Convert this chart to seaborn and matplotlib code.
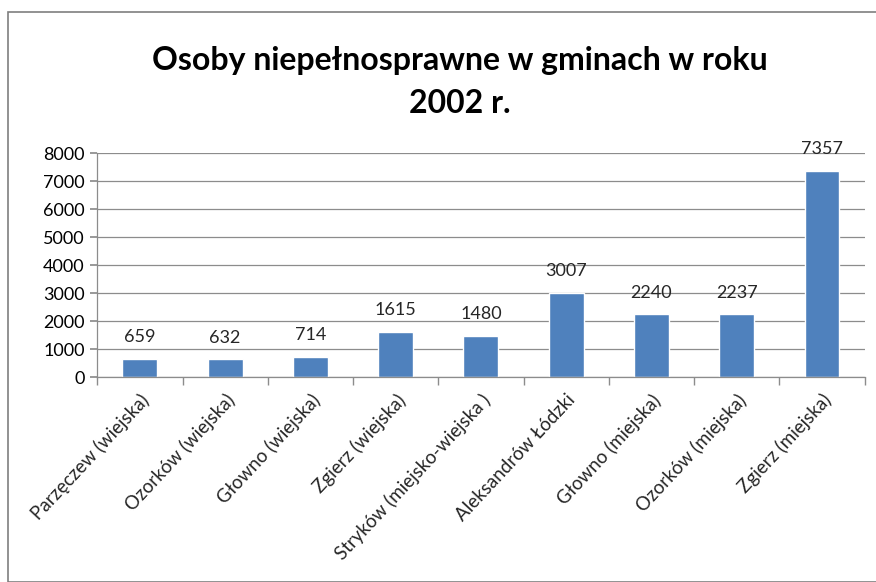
import numpy as np
import pandas as pd
import matplotlib
matplotlib.use('Agg')
import matplotlib.pyplot as plt
from matplotlib.patches import Rectangle
import seaborn as sns

categories = ['Parzęczew (wiejska)', 'Ozorków (wiejska)', 'Głowno (wiejska)',
              'Zgierz (wiejska)', 'Stryków (miejsko-wiejska )', 'Aleksandrów Łódzki',
              'Głowno (miejska)', 'Ozorków (miejska)', 'Zgierz (miejska)']
values = [659, 632, 714, 1615, 1480, 3007, 2240, 2237, 7357]
title = 'Osoby niepełnosprawne w gminach w roku\n2002 r.'

sns.set_theme(style='white')
plt.rcParams['font.family'] = ['Lato', 'DejaVu Sans']

df = pd.DataFrame({'gmina': categories, 'osoby': values})

fig = plt.figure(figsize=(8.76, 5.82), dpi=100)
ax = fig.add_axes([0.111, 0.352, 0.876, 0.385])
sns.barplot(data=df, x='gmina', y='osoby', color='#4f81bd', width=0.41,
            saturation=1, ax=ax)

ax.set_ylim(0, 8000)
ax.set_yticks(np.arange(0, 8001, 1000))
ax.yaxis.grid(True, color='#8c8c8c', linewidth=0.9)
ax.set_axisbelow(True)
ax.set_xlim(-0.5, len(categories) - 0.5)
ax.set_xlabel('')
ax.set_ylabel('')
for s in ['top', 'right']:
    ax.spines[s].set_visible(False)
for s in ['left', 'bottom']:
    ax.spines[s].set_color('#8c8c8c')
    ax.spines[s].set_linewidth(0.9)

ax.tick_params(axis='y', labelsize=13, labelcolor='black', length=5, color='#8c8c8c',
               left=True, pad=4)
ax.set_xticks(range(len(categories)))
ax.set_xticklabels(categories, rotation=47, ha='right', rotation_mode='anchor', fontsize=13.5)
ax.tick_params(axis='x', length=0, pad=10)
ax.set_xticks(np.arange(-0.5, len(categories), 1), minor=True)
ax.tick_params(axis='x', which='minor', length=6, color='#8c8c8c', bottom=True)

for i, v in enumerate(values):
    ax.text(i, v + 780, str(v), ha='center', va='center', fontsize=13, color='#262626')

fig.text(0.525, 0.859, title, ha='center', va='center', fontsize=23, fontweight='bold',
         color='black', linespacing=1.6)

fig.patches.append(Rectangle((8 / 876, 0), 1.2, 1 - 12 / 582, transform=fig.transFigure,
                             fill=False, edgecolor='#7f7f7f', linewidth=1.2))

fig.savefig('out.png', dpi=100)
